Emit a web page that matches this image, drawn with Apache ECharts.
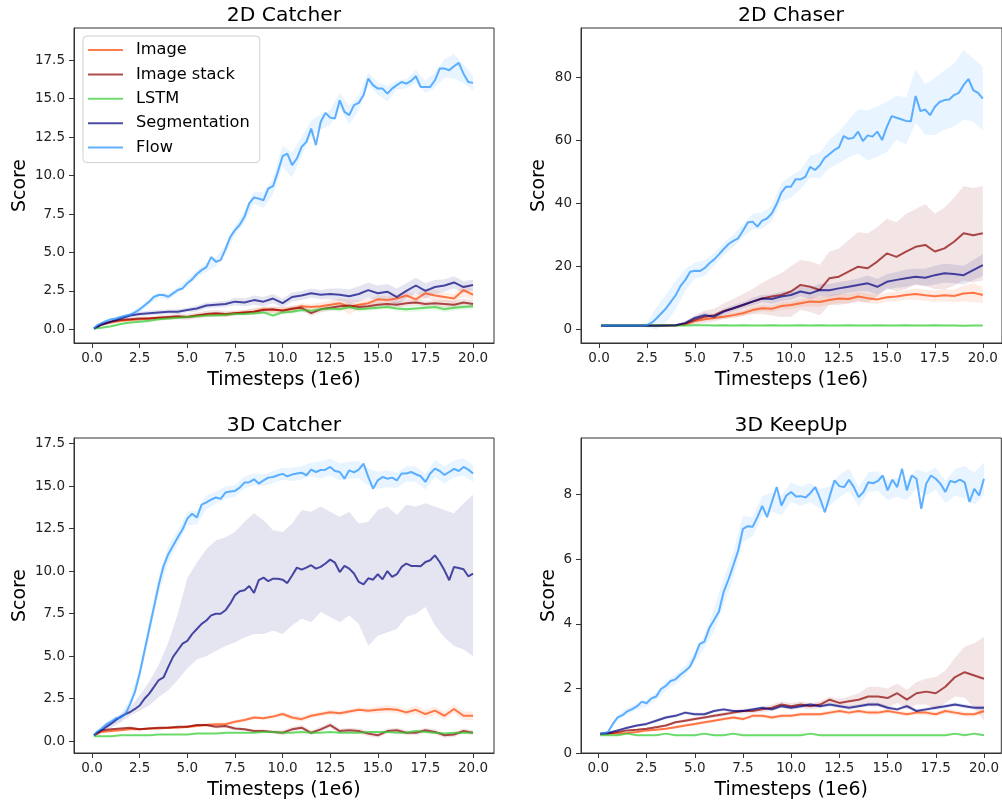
<!DOCTYPE html>
<html>
<head>
<meta charset="utf-8">
<title>Scores</title>
<script src="https://cdn.jsdelivr.net/npm/echarts@6/dist/echarts.min.js"></script>
<style>
  html, body { margin: 0; padding: 0; background: #fff; }
  #main { width: 1002px; height: 801px; }
</style>
</head>
<body>
<div id="main"></div>
<script>
// timesteps (1e6), coarse grid for most curves
const steps = [0.1, 0.5, 1, 1.5, 2, 2.5, 3, 3.5, 4, 4.5,
  5, 5.5, 6, 6.5, 7, 7.5, 8, 8.5, 9, 9.5,
  10, 10.5, 11, 11.5, 12, 12.5, 13, 13.5, 14, 14.5,
  15, 15.5, 16, 16.5, 17, 17.5, 18, 18.5, 19, 19.5, 20];
// finer grid, used for the Flow curves (and 3D Catcher segmentation)
const fineSteps = [0.1, 0.25, 0.5, 0.75, 1, 1.25, 1.5, 1.75, 2, 2.25,
  2.5, 2.75, 3, 3.25, 3.5, 3.75, 4, 4.25, 4.5, 4.75,
  5, 5.25, 5.5, 5.75, 6, 6.25, 6.5, 6.75, 7, 7.25,
  7.5, 7.75, 8, 8.25, 8.5, 8.75, 9, 9.25, 9.5, 9.75,
  10, 10.25, 10.5, 10.75, 11, 11.25, 11.5, 11.75, 12, 12.25,
  12.5, 12.75, 13, 13.25, 13.5, 13.75, 14, 14.25, 14.5, 14.75,
  15, 15.25, 15.5, 15.75, 16, 16.25, 16.5, 16.75, 17, 17.25,
  17.5, 17.75, 18, 18.25, 18.5, 18.75, 19, 19.25, 19.5, 19.75, 20];

const names = ['Image', 'Image stack', 'LSTM', 'Segmentation', 'Flow'];

const xTicks = [0, 2.5, 5, 7.5, 10, 12.5, 15, 17.5, 20];
const catcherTicks = [0, 2.5, 5, 7.5, 10, 12.5, 15, 17.5];
const chaserTicks = [0, 20, 40, 60, 80];
const keepUpTicks = [0, 2, 4, 6, 8];

// ---- 2D Catcher ----
const c2Image = [0.05,0.3,0.45,0.55,0.6,0.65,0.7,0.75,0.75,0.8, 0.8,0.9,0.95,1.0,0.95,1.05,1.1,1.15,1.3,1.25, 1.25,1.3,1.5,1.45,1.5,1.6,1.7,1.45,1.6,1.7, 1.95,1.9,2.0,2.2,1.95,2.35,2.2,2.1,2.0,2.55, 2.25];
const c2ImageBand = [0.02,0.05,0.08,0.1,0.1,0.1,0.1,0.12,0.12,0.12, 0.12,0.15,0.15,0.15,0.15,0.15,0.15,0.2,0.2,0.2, 0.2,0.2,0.2,0.2,0.25,0.3,0.3,0.5,0.3,0.25, 0.25,0.25,0.3,0.3,0.3,0.3,0.35,0.3,0.3,0.4, 0.35];
const c2Stack = [0.05,0.35,0.5,0.6,0.65,0.7,0.7,0.75,0.8,0.85, 0.8,0.9,1.0,1.05,1.0,1.05,1.1,1.15,1.25,1.3, 1.2,1.35,1.4,1.05,1.3,1.4,1.5,1.55,1.45,1.5, 1.6,1.65,1.6,1.7,1.75,1.65,1.7,1.65,1.6,1.75, 1.65];
const c2StackBand = [0.02,0.05,0.08,0.1,0.1,0.12,0.12,0.15,0.15,0.2, 0.2,0.2,0.2,0.2,0.2,0.15,0.15,0.2,0.2,0.2, 0.2,0.2,0.2,0.2,0.2,0.2,0.2,0.2,0.2,0.2, 0.25,0.2,0.2,0.2,0.2,0.2,0.2,0.25,0.25,0.25, 0.25];
const c2Lstm = [0.05,0.1,0.2,0.35,0.45,0.5,0.55,0.65,0.7,0.75, 0.8,0.85,0.9,0.9,0.95,1.0,1.0,1.05,1.1,0.9, 1.1,1.15,1.25,1.2,1.3,1.35,1.3,1.45,1.3,1.35, 1.4,1.45,1.35,1.3,1.35,1.4,1.45,1.3,1.4,1.45, 1.5];
const c2LstmBand = [0.02,0.05,0.05,0.08,0.08,0.1,0.1,0.1,0.1,0.1, 0.1,0.1,0.1,0.1,0.1,0.1,0.1,0.12,0.12,0.12, 0.12,0.12,0.12,0.15,0.15,0.15,0.15,0.15,0.15,0.15, 0.15,0.15,0.15,0.2,0.2,0.2,0.2,0.2,0.2,0.2, 0.2];
const c2Seg = [0.05,0.3,0.5,0.7,0.9,1.0,1.05,1.1,1.15,1.15, 1.25,1.35,1.55,1.6,1.65,1.8,1.75,1.9,1.8,2.0, 1.7,2.1,2.2,2.35,2.25,2.3,2.25,2.15,2.3,2.55, 2.35,2.45,2.1,2.5,2.85,2.5,2.75,2.85,3.05,2.75, 2.88];
const c2SegBand = [0.02,0.08,0.1,0.12,0.15,0.15,0.15,0.15,0.15,0.15, 0.15,0.2,0.2,0.2,0.2,0.25,0.25,0.3,0.3,0.3, 0.3,0.3,0.3,0.3,0.3,0.35,0.4,0.45,0.5,0.5, 0.5,0.5,0.55,0.5,0.5,0.5,0.45,0.4,0.4,0.4, 0.35];
const c2Flow = [0.05,0.25,0.4,0.55,0.65,0.7,0.8,0.88,0.95,1.1, 1.3,1.55,1.8,2.12,2.23,2.23,2.12,2.34,2.56,2.66, 3.0,3.25,3.6,3.85,4.05,4.7,4.4,4.5,5.2,6.0, 6.45,6.8,7.32,8.19,8.58,8.5,8.4,9.16,9.31,10.24, 11.26,11.43,10.68,11.11,11.87,12.19,13.06,11.98,13.49,14.08, 13.77,13.71,14.9,14.14,13.93,14.58,14.73,15.23,16.31,15.88, 15.66,15.66,15.33,15.66,15.88,16.09,15.98,16.16,16.46,15.77, 15.77,15.77,16.2,16.96,16.96,16.85,17.11,17.33,16.63,16.09, 16.03];
const c2FlowBand = [0.05,0.1,0.1,0.1,0.15,0.2,0.2,0.2,0.2,0.2, 0.25,0.25,0.3,0.3,0.3,0.3,0.4,0.4,0.5,0.5, 0.7,0.8,0.6,0.5,0.5,0.5,0.5,0.6,0.5,0.4, 0.4,0.5,0.3,0.3,0.4,0.4,0.5,0.6,0.8,0.6, 0.5];
const c2FlowBandMean = [0.05,0.4,0.65,0.8,0.95,1.3,1.8,2.23,2.12,2.56, 3.0,3.6,4.05,4.4,5.2,6.45,7.32,8.58,8.4,9.31, 11.26,10.68,11.87,13.06,13.49,13.77,14.9,13.93,14.73,16.31, 15.66,15.33,15.88,15.98,16.46,15.77,16.2,16.96,17.11,16.63, 16.03];

// ---- 2D Chaser ----
const chImage = [1.2,1.2,1.2,1.2,1.2,1.2,1.2,1.2,1.2,1.5, 2.6,3.2,3.6,4.0,4.5,5.1,6.1,6.7,6.5,7.4, 7.7,8.3,8.8,8.7,9.3,9.8,9.6,10.4,9.9,9.5, 10.2,10.4,10.9,11.2,10.8,10.5,10.8,10.6,11.4,11.6, 10.9];
const chImageBand = [0.1,0.1,0.1,0.1,0.1,0.1,0.1,0.1,0.1,0.2, 0.4,0.6,0.6,0.7,0.8,0.8,1.0,1.0,1.0,1.2, 1.2,1.2,1.5,1.5,1.5,1.5,1.5,1.5,1.5,1.5, 1.5,1.5,1.5,1.8,1.8,1.8,2.0,2.0,2.5,3.0, 2.5];
const chStack = [1.2,1.2,1.2,1.2,1.2,1.2,1.2,1.2,1.3,1.8, 3.0,4.0,4.5,5.8,6.7,7.7,8.8,9.8,10.4,10.9, 12.0,14.1,13.5,12.5,16.2,16.7,18.3,19.9,19.4,21.5, 24.1,23.0,24.7,26.2,26.8,24.7,25.7,27.8,30.5,29.9, 30.5];
const chStackBand = [0.2,0.2,0.2,0.2,0.2,0.2,0.2,0.2,0.3,0.8, 1.5,2.0,2.0,2.5,3.0,3.5,4.0,5.0,6.0,7.0, 8.0,8.0,8.0,8.0,8.5,9.0,10,11,11,11, 11,11,12,12,13,12,13,14,15,15, 15];
const chLstm = [1.2,1.3,1.2,1.3,1.2,1.2,1.3,1.2,1.3,1.2, 1.3,1.3,1.2,1.3,1.2,1.3,1.2,1.2,1.3,1.2, 1.2,1.3,1.2,1.3,1.2,1.2,1.3,1.2,1.2,1.3, 1.2,1.2,1.3,1.2,1.2,1.3,1.2,1.2,1.1,1.2, 1.2];
const chLstmBand = [0.2,0.2,0.2,0.2,0.2,0.2,0.2,0.2,0.2,0.2, 0.25,0.25,0.25,0.25,0.25,0.25,0.25,0.25,0.25,0.25, 0.25,0.25,0.25,0.25,0.25,0.25,0.25,0.25,0.25,0.25, 0.3,0.3,0.3,0.3,0.3,0.3,0.3,0.3,0.3,0.3, 0.3];
const chSeg = [1.1,1.1,1.1,1.1,1.1,1.1,1.1,1.2,1.3,2.0, 3.6,4.5,4.0,5.6,6.7,7.7,8.8,9.8,9.6,10.4, 10.9,12.0,11.4,12.5,12.4,13.0,13.5,14.1,14.6,13.5, 15.1,15.7,16.2,16.7,16.4,17.2,17.8,17.6,17.2,18.8, 20.4];
const chSegBand = [0.1,0.1,0.1,0.1,0.1,0.1,0.1,0.1,0.2,0.4, 0.6,0.8,0.8,1.0,1.0,1.0,1.2,1.2,1.5,1.5, 1.5,1.5,1.8,2.0,2.0,2.0,2.0,2.0,2.5,2.5, 2.5,2.5,2.8,2.5,2.8,3.0,3.0,3.0,3.0,3.2, 3.5];
const chFlow = [1.2,1.2,1.2,1.2,1.2,1.2,1.2,1.2,1.2,1.2, 1.3,2.1,3.5,5.1,6.7,8.8,10.9,13.8,15.7,18.3, 18.6,18.5,19.4,21.0,22.2,23.8,25.5,27.1,28.1,28.9, 31.3,33.9,34.2,32.6,34.5,35.2,36.8,39.7,43.4,45.3, 45.3,47.7,47.6,48.4,51.6,50.6,52.0,54.4,55.6,56.9, 57.8,61.4,60.5,60.8,62.8,59.8,61.6,61.2,62.8,60.1, 64.3,67.7,67.2,66.7,66.2,66.1,74.1,69.3,69.8,68.0, 70.7,72.2,72.8,73.0,74.4,75.1,77.6,79.5,76.0,75.1, 73.3];
const chFlowBandMean = [1.2,1.2,1.2,1.2,1.2,1.3,3.5,6.7,10.9,15.7, 18.6,19.4,22.2,25.5,28.1,31.3,34.2,34.5,36.8,43.4, 45.3,47.6,51.6,52.0,55.6,57.8,60.5,62.8,61.6,62.8, 64.3,67.2,66.2,74.1,69.8,70.7,72.8,74.4,77.6,76.0, 73.3];
const chFlowBand = [0.3,0.3,0.3,0.3,0.3,0.8,3.5,4.5,4.5,3.5, 2.5,2.5,2.0,2.0,2.0,2.0,2.5,2.5,2.5,3.0, 3.5,3.0,3.5,4.0,4.5,5.0,6.0,7.0,8.0,8.0, 8.0,7.0,7.5,8.5,8.0,9.0,9.5,10,11,10, 10];

// ---- 3D Catcher ----
const c3Image = [0.35,0.55,0.6,0.65,0.7,0.7,0.75,0.75,0.8,0.8, 0.85,0.9,0.95,1.0,1.0,1.15,1.25,1.4,1.35,1.45, 1.6,1.4,1.3,1.5,1.6,1.7,1.65,1.75,1.85,1.8, 1.85,1.9,1.85,1.7,1.85,1.6,1.8,1.5,1.9,1.5, 1.5];
const c3ImageBand = [0.03,0.05,0.05,0.05,0.05,0.05,0.05,0.05,0.05,0.05, 0.08,0.08,0.08,0.1,0.1,0.1,0.1,0.1,0.1,0.1, 0.15,0.15,0.15,0.15,0.15,0.15,0.15,0.15,0.15,0.15, 0.2,0.2,0.2,0.2,0.25,0.25,0.25,0.25,0.25,0.25, 0.25];
const c3Stack = [0.35,0.65,0.7,0.75,0.8,0.7,0.75,0.8,0.8,0.85, 0.85,0.95,0.95,0.85,0.9,0.75,0.7,0.6,0.6,0.55, 0.5,0.7,0.8,0.5,0.7,0.95,0.6,0.65,0.6,0.45, 0.35,0.6,0.65,0.5,0.5,0.65,0.55,0.35,0.4,0.6, 0.5];
const c3StackBand = [0.03,0.05,0.05,0.05,0.05,0.05,0.05,0.05,0.05,0.05, 0.08,0.08,0.08,0.1,0.1,0.1,0.1,0.1,0.1,0.1, 0.15,0.15,0.15,0.15,0.15,0.15,0.15,0.15,0.15,0.15, 0.15,0.15,0.15,0.15,0.15,0.15,0.15,0.15,0.15,0.15, 0.15];
const c3Lstm = [0.3,0.3,0.3,0.35,0.35,0.35,0.35,0.4,0.4,0.4, 0.4,0.45,0.45,0.45,0.5,0.5,0.5,0.5,0.55,0.55, 0.5,0.5,0.55,0.5,0.5,0.55,0.5,0.5,0.5,0.55, 0.55,0.55,0.5,0.5,0.6,0.55,0.5,0.45,0.5,0.5, 0.5];
const c3LstmBand = [0.02,0.03,0.03,0.03,0.03,0.03,0.03,0.03,0.03,0.03, 0.04,0.04,0.04,0.04,0.04,0.04,0.04,0.04,0.04,0.04, 0.05,0.05,0.05,0.05,0.05,0.05,0.05,0.05,0.05,0.05, 0.05,0.05,0.05,0.05,0.05,0.05,0.05,0.05,0.05,0.05, 0.05];
const c3Seg = [0.35,0.5,0.65,0.85,1.04,1.25,1.43,1.6,1.72,1.9, 2.1,2.5,2.8,3.2,3.6,3.75,4.37,4.96,5.35,5.74, 5.9,6.3,6.6,6.9,7.1,7.4,7.5,7.5,7.7,8.09, 8.58,8.82,8.88,9.13,8.72,9.47,9.62,9.41,9.56,9.56, 9.5,9.3,9.75,10.21,10.09,10.21,10.35,10.15,10.25,10.45, 10.68,10.5,9.95,10.31,10.15,9.86,9.37,9.23,9.58,9.5, 9.82,9.52,10.01,9.66,9.82,10.25,10.45,10.31,10.31,10.29, 10.54,10.64,10.93,10.54,10.05,9.47,10.25,10.19,10.11,9.7, 9.86];
const c3SegUpper = [0.4,0.8,1.2,1.6,2.0,2.7,3.5,4.5,5.8,7.5, 9.6,10.5,11.3,11.8,12.0,12.3,12.9,13.4,13.0,12.4, 12.3,12.8,13.6,13.5,13.8,13.5,13.2,13.5,12.8,12.9, 13.6,13.8,13.3,13.9,13.8,14.0,13.8,13.6,13.4,14.0, 14.5];
const c3SegLower = [0.3,0.5,0.8,1.1,1.5,1.8,2.1,2.6,3.0,3.6, 4.3,4.8,5.0,5.3,5.6,5.8,6.1,6.3,6.3,6.5, 6.3,6.8,7.2,7.0,7.6,7.3,7.0,7.4,6.9,5.6, 6.2,6.4,6.6,7.3,7.5,7.9,6.8,6.1,5.6,5.4, 5.0];
const c3Flow = [0.35,0.55,0.75,1.0,1.15,1.35,1.4,1.6,2.2,2.9, 4.0,5.3,6.6,7.9,9.2,10.3,11.0,11.5,12.0,12.46, 13.09,13.38,13.15,13.91,14.05,14.21,14.33,14.25,14.62,14.68, 14.72,14.91,15.21,15.23,15.4,15.15,15.34,15.5,15.54,15.64, 15.72,15.58,15.68,15.74,15.79,15.64,15.97,15.83,15.95,15.97, 16.13,15.89,15.83,15.44,15.93,15.81,15.97,16.32,15.54,14.85, 15.34,15.54,15.44,15.5,15.34,15.74,15.74,15.83,15.7,15.58, 15.25,15.74,16.03,15.89,15.66,15.83,16.01,15.89,16.13,15.97, 15.74];
const c3FlowBandMean = [0.35,0.75,1.15,1.4,2.2,4.0,6.6,9.2,11.0,12.0, 13.09,13.15,14.05,14.33,14.62,14.72,15.21,15.4,15.34,15.54, 15.72,15.68,15.79,15.97,15.95,16.13,15.83,15.93,15.97,15.54, 15.34,15.44,15.34,15.74,15.7,15.25,16.03,15.66,16.01,16.13, 15.74];
const c3FlowBand = [0.05,0.15,0.2,0.2,0.3,0.4,0.5,0.5,0.5,0.4, 0.4,0.4,0.4,0.35,0.35,0.35,0.35,0.35,0.35,0.35, 0.35,0.4,0.4,0.4,0.5,0.5,0.5,0.5,0.5,0.5, 0.5,0.5,0.45,0.45,0.45,0.45,0.5,0.5,0.5,0.5, 0.5];

// ---- 3D KeepUp ----
const k3Image = [0.58,0.6,0.6,0.62,0.65,0.7,0.72,0.75,0.8,0.85, 0.9,0.95,1.0,1.05,1.1,1.05,1.15,1.15,1.1,1.15, 1.15,1.2,1.2,1.2,1.25,1.3,1.25,1.3,1.25,1.25, 1.3,1.25,1.2,1.25,1.25,1.2,1.3,1.25,1.2,1.2, 1.3];
const k3ImageBand = [0.02,0.03,0.03,0.03,0.03,0.04,0.04,0.04,0.04,0.05, 0.05,0.05,0.05,0.05,0.06,0.06,0.06,0.06,0.06,0.06, 0.06,0.06,0.06,0.06,0.07,0.07,0.07,0.07,0.07,0.07, 0.07,0.07,0.07,0.07,0.08,0.08,0.08,0.08,0.08,0.08, 0.08];
const k3Stack = [0.58,0.6,0.65,0.7,0.72,0.75,0.8,0.85,0.95,1.0, 1.05,1.1,1.15,1.2,1.25,1.3,1.3,1.35,1.4,1.5, 1.45,1.5,1.45,1.5,1.65,1.55,1.6,1.65,1.75,1.75, 1.7,1.85,1.65,1.85,1.9,1.85,2.05,2.35,2.5,2.4, 2.3];
const k3StackBand = [0.02,0.03,0.03,0.03,0.03,0.03,0.04,0.04,0.04,0.05, 0.05,0.05,0.06,0.06,0.06,0.08,0.08,0.08,0.1,0.1, 0.1,0.1,0.1,0.1,0.1,0.12,0.15,0.2,0.3,0.3, 0.3,0.3,0.3,0.35,0.4,0.5,0.5,0.6,0.8,1.0, 1.3];
const k3Lstm = [0.55,0.55,0.55,0.6,0.55,0.55,0.55,0.6,0.55,0.55, 0.55,0.6,0.55,0.55,0.6,0.55,0.55,0.55,0.55,0.55, 0.55,0.55,0.6,0.55,0.55,0.55,0.55,0.55,0.55,0.55, 0.55,0.55,0.55,0.55,0.55,0.55,0.55,0.6,0.55,0.6, 0.55];
const k3LstmBand = [0.02,0.02,0.02,0.02,0.02,0.02,0.02,0.02,0.02,0.02, 0.03,0.03,0.03,0.03,0.03,0.03,0.03,0.03,0.03,0.03, 0.03,0.03,0.03,0.03,0.03,0.03,0.03,0.03,0.03,0.03, 0.03,0.03,0.03,0.03,0.03,0.03,0.03,0.03,0.03,0.03, 0.03];
const k3Seg = [0.6,0.62,0.7,0.78,0.85,0.9,1.0,1.1,1.15,1.25, 1.2,1.2,1.3,1.35,1.3,1.3,1.35,1.4,1.35,1.45, 1.4,1.45,1.5,1.45,1.5,1.45,1.4,1.45,1.5,1.5, 1.4,1.35,1.45,1.3,1.35,1.4,1.45,1.5,1.45,1.4, 1.4];
const k3SegBand = [0.02,0.03,0.03,0.04,0.04,0.05,0.05,0.05,0.05,0.05, 0.05,0.05,0.05,0.05,0.05,0.05,0.05,0.05,0.05,0.05, 0.06,0.06,0.06,0.06,0.06,0.06,0.06,0.06,0.06,0.06, 0.06,0.06,0.06,0.06,0.06,0.06,0.06,0.06,0.06,0.06, 0.06];
const k3Flow = [0.6,0.6,0.65,0.9,1.1,1.17,1.29,1.36,1.44,1.59, 1.54,1.69,1.75,1.98,2.08,2.23,2.28,2.42,2.54,2.67, 2.98,3.37,3.45,3.86,4.12,4.37,4.99,5.37,5.81,6.26, 6.94,7.02,7.0,7.3,7.65,7.3,7.77,8.23,7.66,7.97, 8.08,7.94,7.95,7.91,8.05,8.23,7.87,7.45,7.95,8.44, 8.26,8.23,8.46,8.23,7.92,8.08,8.38,8.35,8.42,8.59, 8.13,8.46,8.23,8.8,8.13,8.59,8.49,7.56,8.33,8.59, 8.49,8.33,8.08,8.42,8.38,8.46,8.38,7.77,8.18,7.97, 8.49];
const k3FlowBandMean = [0.6,0.65,1.1,1.29,1.44,1.54,1.75,2.08,2.28,2.54, 2.98,3.45,4.12,4.99,5.81,6.94,7.0,7.65,7.77,7.66, 8.08,7.95,8.05,7.87,7.95,8.26,8.46,7.92,8.38,8.42, 8.13,8.23,8.13,8.49,8.33,8.49,8.08,8.38,8.38,8.18, 8.49];
const k3FlowBand = [0.02,0.05,0.08,0.1,0.1,0.1,0.12,0.15,0.15,0.15, 0.15,0.2,0.35,0.4,0.4,0.4,0.3,0.3,0.3,0.3, 0.3,0.3,0.3,0.3,0.3,0.35,0.35,0.3,0.3,0.3, 0.3,0.3,0.3,0.3,0.35,0.35,0.35,0.4,0.5,0.5, 0.5];

// ------------------------------------------------------------
const lineColors = ['rgba(255,69,0,0.7)', 'rgba(139,0,0,0.7)', 'rgba(50,205,50,0.7)', 'rgba(0,0,128,0.7)', 'rgba(30,144,255,0.7)'];
const bandColors = ['rgba(255,69,0,0.1)', 'rgba(139,0,0,0.1)', 'rgba(50,205,50,0.1)', 'rgba(0,0,128,0.1)', 'rgba(30,144,255,0.1)'];
const FONT = 'DejaVu Sans';

function spread(mean, sd) {
  return { lo: mean.map((v, i) => v - sd[i]), hi: mean.map((v, i) => v + sd[i]) };
}
function line(xs, ys) { return { xs: xs, ys: ys }; }

const panels = [
  { title: '2D Catcher', left: 74, top: 28, width: 420, xMin: -0.95, xMax: 21.1, yMin: -0.89, yMax: 19.6, yTicks: catcherTicks, yDec: 1, nameGap: 44,
    lines: [line(steps, c2Image), line(steps, c2Stack), line(steps, c2Lstm), line(steps, c2Seg), line(fineSteps, c2Flow)],
    bands: [spread(c2Image, c2ImageBand), spread(c2Stack, c2StackBand), spread(c2Lstm, c2LstmBand), spread(c2Seg, c2SegBand), spread(c2FlowBandMean, c2FlowBand)] },
  { title: '2D Chaser', left: 581, top: 28, width: 421, xMin: -0.94, xMax: 21.0, yMin: -4.35, yMax: 95.7, yTicks: chaserTicks, yDec: 0, nameGap: 32,
    lines: [line(steps, chImage), line(steps, chStack), line(steps, chLstm), line(steps, chSeg), line(fineSteps, chFlow)],
    bands: [spread(chImage, chImageBand), spread(chStack, chStackBand), spread(chLstm, chLstmBand), spread(chSeg, chSegBand), spread(chFlowBandMean, chFlowBand)] },
  { title: '3D Catcher', left: 74, top: 438, width: 420, xMin: -0.95, xMax: 21.1, yMin: -0.69, yMax: 17.83, yTicks: catcherTicks, yDec: 1, nameGap: 44,
    lines: [line(steps, c3Image), line(steps, c3Stack), line(steps, c3Lstm), line(fineSteps, c3Seg), line(fineSteps, c3Flow)],
    bands: [spread(c3Image, c3ImageBand), spread(c3Stack, c3StackBand), spread(c3Lstm, c3LstmBand), { lo: c3SegLower, hi: c3SegUpper }, spread(c3FlowBandMean, c3FlowBand)] },
  { title: '3D KeepUp', left: 581, top: 438, width: 421, xMin: -0.9, xMax: 20.9, yMin: 0, yMax: 9.75, yTicks: keepUpTicks, yDec: 0, nameGap: 22,
    lines: [line(steps, k3Image), line(steps, k3Stack), line(steps, k3Lstm), line(steps, k3Seg), line(fineSteps, k3Flow)],
    bands: [spread(k3Image, k3ImageBand), spread(k3Stack, k3StackBand), spread(k3Lstm, k3LstmBand), spread(k3Seg, k3SegBand), spread(k3FlowBandMean, k3FlowBand)] }
];

const PLOT_H = 315;
const grids = [], xAxes = [], yAxes = [], titles = [], series = [];

panels.forEach(function (p, gi) {
  grids.push({ left: p.left, top: p.top, width: p.width, height: PLOT_H, show: true,
    borderColor: '#333', borderWidth: 1, backgroundColor: 'transparent' });

  titles.push({ text: p.title, left: p.left + 210, top: p.top - 24, textAlign: 'center', padding: 0,
    textStyle: { fontFamily: FONT, fontSize: 20.3, fontWeight: 'normal', color: '#000', lineHeight: 24 } });

  xAxes.push({
    type: 'value', gridIndex: gi, min: p.xMin, max: p.xMax,
    name: 'Timesteps (1e6)', nameLocation: 'middle', nameGap: 28,
    nameTextStyle: { fontFamily: FONT, fontSize: 18.9, color: '#000' },
    axisLine: { show: true, onZero: false, lineStyle: { color: '#333', width: 1 } },
    axisTick: { show: true, customValues: xTicks, length: 5, lineStyle: { color: '#333' } },
    axisLabel: { customValues: xTicks, margin: 8, fontFamily: FONT, fontSize: 13.5, color: '#222',
      formatter: v => v.toFixed(1) },
    splitLine: { show: false }
  });

  yAxes.push({
    type: 'value', gridIndex: gi, min: p.yMin, max: p.yMax,
    name: 'Score', nameLocation: 'middle', nameGap: p.nameGap,
    nameTextStyle: { fontFamily: FONT, fontSize: 18.9, color: '#000' },
    axisLine: { show: true, onZero: false, lineStyle: { color: '#333', width: 1 } },
    axisTick: { show: true, customValues: p.yTicks, length: 5, lineStyle: { color: '#333' } },
    axisLabel: { customValues: p.yTicks, margin: 9, fontFamily: FONT, fontSize: 13.5, color: '#222',
      formatter: v => v.toFixed(p.yDec) },
    splitLine: { show: false }
  });

  // shaded bands (one polygon per curve)
  p.bands.forEach(function (b, si) {
    series.push({
      type: 'custom', name: names[si] + ' band', xAxisIndex: gi, yAxisIndex: gi, silent: true, z: 1,
      data: steps.map((x, i) => [x, b.lo[i], b.hi[i]]),
      encode: { x: 0, y: [1, 2] },
      renderItem: function (params, api) {
        if (params.dataIndex !== 0) return null;
        const pts = [];
        for (let i = 0; i < steps.length; i++) pts.push(api.coord([steps[i], b.hi[i]]));
        for (let i = steps.length - 1; i >= 0; i--) pts.push(api.coord([steps[i], b.lo[i]]));
        return { type: 'polygon', shape: { points: pts }, style: { fill: bandColors[si] } };
      }
    });
  });

  // mean lines
  p.lines.forEach(function (l, si) {
    series.push({
      type: 'line', name: names[si], xAxisIndex: gi, yAxisIndex: gi, z: 2,
      showSymbol: false, symbol: 'none', silent: true,
      data: l.xs.map((x, i) => [x, l.ys[i]]),
      itemStyle: { color: lineColors[si] },
      lineStyle: { color: lineColors[si], width: 2 }
    });
  });
});

const chart = echarts.init(document.getElementById('main'), null, { renderer: 'canvas' });
chart.setOption({
  animation: false,
  backgroundColor: '#fff',
  textStyle: { fontFamily: FONT },
  title: titles,
  grid: grids,
  xAxis: xAxes,
  yAxis: yAxes,
  legend: {
    data: names, orient: 'vertical', left: 83, top: 36,
    icon: 'rect', itemWidth: 35, itemHeight: 2, itemGap: 6.4,
    padding: [5, 10, 6, 5], selectedMode: false,
    backgroundColor: 'rgba(255,255,255,0.8)', borderColor: '#d0d0d0', borderWidth: 1, borderRadius: 4,
    textStyle: { fontFamily: FONT, fontSize: 16.2, color: '#000', lineHeight: 18, padding: [0, 0, 0, 8] }
  },
  series: series
});
</script>
</body>
</html>
